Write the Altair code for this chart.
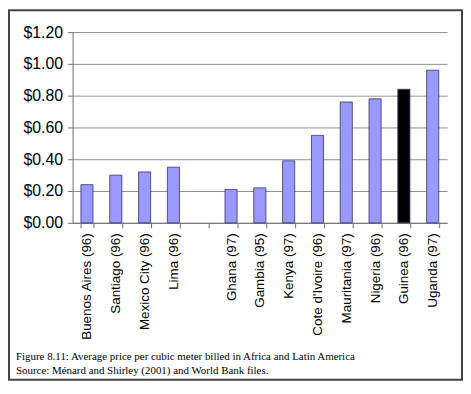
import altair as alt
import pandas as pd

# Categories in display order (blank slot separates Latin America and Africa)
categories = [
    "Buenos Aires (96)", "Santiago (96)", "Mexico City (96)", "Lima (96)", " ",
    "Ghana (97)", "Gambia (95)", "Kenya (97)", "Cote d'Ivoire (96)",
    "Mauritania (97)", "Nigeria (96)", "Guinea (96)", "Uganda (97)",
]
countries = [
    "Buenos Aires (96)", "Santiago (96)", "Mexico City (96)", "Lima (96)",
    "Ghana (97)", "Gambia (95)", "Kenya (97)", "Cote d'Ivoire (96)",
    "Mauritania (97)", "Nigeria (96)", "Guinea (96)", "Uganda (97)",
]
prices = [0.24, 0.30, 0.32, 0.35, 0.21, 0.22, 0.39, 0.55, 0.76, 0.78, 0.84, 0.96]
highlighted = "Guinea (96)"
y_ticks = [0.0, 0.2, 0.4, 0.6, 0.8, 1.0, 1.2]

caption_lines = [
    "Figure 8.11: Average price per cubic meter billed in Africa and Latin America",
    "Source:  Ménard and Shirley (2001) and World Bank files.",
]

df = pd.DataFrame({"country": countries, "price": prices})

bars = alt.Chart(df).mark_bar(stroke="#333366", strokeWidth=0.8).encode(
    x=alt.X(
        "country:N",
        sort=None,
        scale=alt.Scale(domain=categories, paddingInner=0.58, paddingOuter=0.29),
        axis=alt.Axis(
            title=None,
            labelAngle=-90,
            labelFont="Liberation Sans",
            labelFontSize=13.5,
            labelColor="black",
            labelPadding=5,
            labelLimit=300,
            tickBand="extent",
            tickSize=5,
            tickColor="#707070",
            domainColor="#707070",
            grid=False,
        ),
    ),
    y=alt.Y(
        "price:Q",
        scale=alt.Scale(domain=[0, 1.2]),
        axis=alt.Axis(
            title=None,
            values=y_ticks,
            format="$.2f",
            labelFont="Liberation Sans",
            labelFontSize=16,
            labelColor="black",
            labelPadding=5,
            tickSize=5,
            tickColor="#707070",
            domainColor="#707070",
            grid=True,
            gridColor="#8f8f8f",
            gridWidth=1,
        ),
    ),
    color=alt.condition(
        alt.datum.country == highlighted, alt.value("black"), alt.value("#9999FF")
    ),
)

frame = alt.Chart(pd.DataFrame({"k": [0]})).mark_rect(
    filled=False, stroke="#444444", strokeWidth=2
).encode(
    x=alt.value(-64), x2=alt.value(392), y=alt.value(-22), y2=alt.value(350)
)

cap1 = alt.Chart(pd.DataFrame({"t": [caption_lines[0]]})).mark_text(
    align="left", baseline="middle", font="Liberation Serif", fontSize=11, color="black"
).encode(x=alt.value(-57), y=alt.value(327), text="t:N")

cap2 = alt.Chart(pd.DataFrame({"t": [caption_lines[1]]})).mark_text(
    align="left", baseline="middle", font="Liberation Serif", fontSize=11, color="black"
).encode(x=alt.value(-57), y=alt.value(341), text="t:N")

chart = alt.layer(bars, frame, cap1, cap2).properties(
    width=377,
    height=192,
    autosize=alt.AutoSizeParams(type="none"),
    padding={"left": 65, "top": 23, "right": 16, "bottom": 159},
    background="white",
).configure_view(stroke=None).configure_axisX(labelFontSize=13.5)

chart.save("out.html", embed_options={"renderer": "svg", "actions": False})
